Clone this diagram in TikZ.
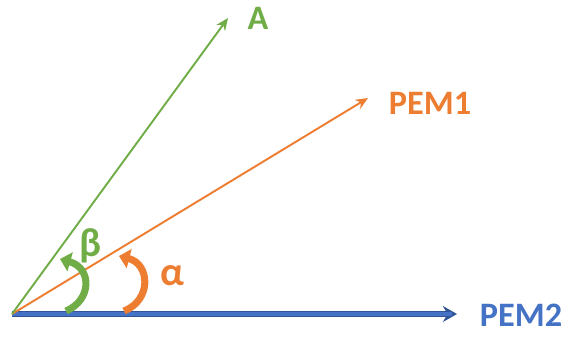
\documentclass[tikz,border=0pt]{standalone}
\usepackage{fontspec}
\setmainfont{Carlito}
\usetikzlibrary{arrows.meta}
\definecolor{cA}{RGB}{112,173,71}
\definecolor{cpem}{RGB}{237,125,49}
\definecolor{cpemtwo}{RGB}{68,114,196}
\definecolor{cpemtwodark}{RGB}{47,85,151}

\begin{document}
\begin{tikzpicture}[x=0.02cm,y=-0.02cm,
   lbl/.style={font=\fontsize{19.5}{22}\selectfont\bfseries,inner sep=0pt},
   greek/.style={font=\fontsize{23}{26}\selectfont\bfseries,inner sep=0pt},
   vec/.style={line width=1.1pt,-{Stealth[length=7pt,width=6pt]}},
   turn/.style={line width=4pt,-{Triangle[length=6pt,width=11pt]}}]
  \useasboundingbox (0,0) rectangle (563,336);
  % origin and vector tips
  \coordinate (o)     at (12,314);
  \coordinate (atip)  at (228,18);
  \coordinate (p1tip) at (368,98);
  \coordinate (p2tip) at (457,314);
  % labels
  \node[lbl,text=cA]      (la)  at (258,18)  {A};
  \node[lbl,text=cpem]    (lp1) at (430,103) {PEM1};
  \node[lbl,text=cpemtwo] (lp2) at (521,315) {PEM2};
  \node[greek,text=cA]    (lb)  at (91,246)  {β};
  \node[greek,text=cpem]  (lal) at (172,276) {α};
  % vectors
  \draw[line width=3.2pt,cpemtwodark,-{Stealth[length=8pt,width=9pt]}] (o) -- (p2tip);
  \draw[line width=2pt,cpemtwo,shorten >=3pt] (o) -- (p2tip);
  \draw[vec,cpem] (o) -- (p1tip);
  \draw[vec,cA] (o) -- (atip);
  % angle arrows
  \coordinate (bs) at (66,311);
  \coordinate (be) at (60,259);
  \coordinate (as) at (124,311);
  \coordinate (ae) at (119,256);
  \draw[turn,cA] (bs) .. controls (92,300) and (92,268) .. (be);
  \draw[turn,cpem] (as) .. controls (152,300) and (150,264) .. (ae);
\end{tikzpicture}
\end{document}
